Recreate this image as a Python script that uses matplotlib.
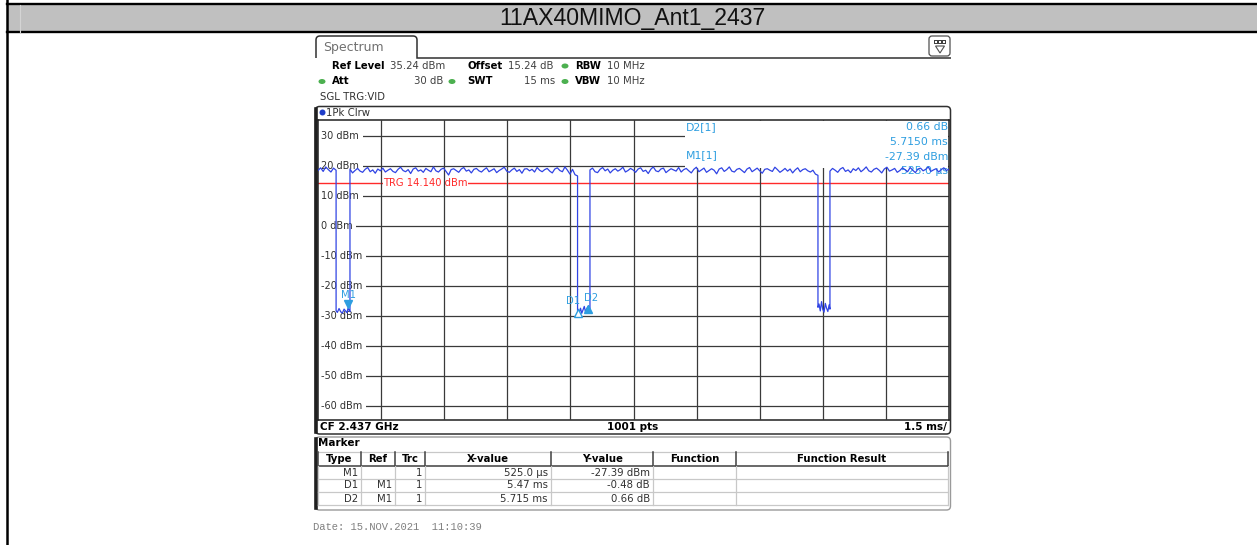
import numpy as np
import matplotlib.pyplot as plt
from matplotlib.patches import Rectangle, FancyBboxPatch, Ellipse, Circle, PathPatch, Polygon
from matplotlib.path import Path
from matplotlib.transforms import offset_copy

W, H = 1257, 545

TITLE = "11AX40MIMO_Ant1_2437"

# analyzer settings
REF_LEVEL = 35.24
RANGE_DB = 100.0
T_START, T_STOP = -0.19, 14.81      # ms, 1.5 ms/div
TRG_LEVEL = 14.14
Y_TICKS = [30, 20, 10, 0, -10, -20, -30, -40, -50, -60]

# trace, split into burst-on levels and the gaps between bursts (ms, dBm)
seg_a_dbm = [18.4, 19.3, 18.1, 19.6, 18.7, 17.9, 19.2, 18.5]
gap1_ms = [0.24, 0.27, 0.31, 0.35, 0.39, 0.43, 0.47, 0.50, 0.525, 0.55, 0.57]
gap1_dbm = [-28.3, -28.9, -27.6, -28.7, -29.1, -27.8, -28.5, -29.0, -27.39, -28.2, -28.6]
seg_b_dbm = [18.9, 17.6, 18.4, 19.1, 18.2, 17.8, 18.8, 19.4, 18.0, 18.6,
             17.5, 18.9, 18.3, 19.2, 17.9, 18.5, 19.0, 18.1, 17.7, 18.8,
             19.5, 18.4, 18.0, 18.7, 17.4, 18.9, 19.3, 18.2, 18.6, 17.8,
             19.1, 18.5, 18.0, 19.6, 18.3, 17.9, 18.8, 19.2, 18.1, 16.9,
             18.7, 19.0, 18.4, 17.8, 18.9, 19.4, 18.2, 18.6, 17.6, 18.8,
             19.1, 18.3, 17.9, 18.7, 19.3, 18.0, 18.5, 19.0, 17.7, 18.4,
             18.9, 19.5, 18.2, 17.8, 18.6, 19.2, 18.1, 18.7, 17.5, 18.9,
             19.0, 18.3, 18.8, 17.9, 19.4, 18.5, 18.0, 18.7, 19.1, 18.2,
             17.6, 18.9, 19.3, 18.4, 18.0, 19.6, 18.5, 17.2, 18.8, 17.0, 16.6]
gap2_ms = [5.98, 5.995, 6.02, 6.05, 6.08, 6.11, 6.14, 6.17, 6.20, 6.24, 6.26, 6.275]
gap2_dbm = [-28.4, -27.87, -28.9, -27.5, -29.2, -28.1, -26.9, -28.8, -27.6, -26.73, -28.3, -27.9]
seg_c_dbm = [18.6, 19.2, 18.0, 17.7, 18.8, 19.4, 18.3, 18.9, 17.6, 18.5,
             19.0, 18.2, 18.7, 19.5, 17.9, 18.4, 19.1, 18.6, 17.8, 18.9,
             19.3, 18.1, 18.5, 17.4, 18.8, 19.6, 18.3, 18.0, 18.9, 19.2,
             17.7, 18.4, 19.0, 18.6, 18.2, 19.4, 17.9, 18.7, 19.1, 18.3,
             17.6, 18.8, 19.5, 18.0, 18.6, 19.2, 17.8, 18.4, 19.0, 18.5,
             17.3, 18.9, 19.3, 18.1, 18.7, 19.6, 18.2, 17.9, 18.8, 19.1,
             18.4, 17.7, 18.9, 19.4, 18.0, 18.6, 19.2, 18.3, 17.5, 18.8,
             19.0, 18.5, 18.1, 19.5, 18.7, 17.8, 18.4, 19.1, 18.2, 18.9,
             17.6, 18.6, 19.3, 18.0, 18.7, 19.0, 18.3, 17.9, 18.5, 17.2, 16.8]
gap3_ms = [11.695, 11.72, 11.75, 11.78, 11.81, 11.84, 11.87, 11.90, 11.93, 11.96, 11.98]
gap3_dbm = [-27.2, -26.1, -28.4, -25.3, -27.9, -28.8, -25.9, -27.5, -28.6, -26.4, -27.8]
seg_d_dbm = [18.2, 19.1, 18.5, 17.8, 18.9, 19.4, 18.1, 18.6, 17.7, 19.0,
             18.4, 19.3, 18.0, 18.7, 19.6, 18.3, 17.9, 18.8, 19.2, 18.5,
             17.6, 18.9, 19.5, 18.2, 18.6, 19.1, 17.8, 18.4, 19.3, 18.7,
             18.0, 19.4, 18.5, 17.7, 18.9, 19.2, 18.3, 18.8, 19.6, 18.1,
             18.6, 19.0, 17.9, 18.7, 19.3, 18.4, 18.9]

# markers
M1_MS, M1_DBM = 0.525, -27.39
D1_DMS, D1_DDB = 5.47, -0.48
D2_DMS, D2_DDB = 5.715, 0.66

TABLE_HEAD = ["Type", "Ref", "Trc", "X-value", "Y-value", "Function", "Function Result"]
TABLE_ROWS = [["M1", "", "1", "525.0 µs", "-27.39 dBm", "", ""],
              ["D1", "M1", "1", "5.47 ms", "-0.48 dB", "", ""],
              ["D2", "M1", "1", "5.715 ms", "0.66 dB", "", ""]]

UI = "DejaVu Sans"
MARK_C = "#2e9ee0"
TRACE_C = "#3044e4"
GRID_C = "#3a3a3a"

fig = plt.figure(figsize=(W / 100, H / 100), dpi=100)

# pixel overlay for the frame, header and table
ov = fig.add_axes([0, 0, 1, 1])
ov.set_xlim(0, W)
ov.set_ylim(H, 0)
ov.axis("off")
ov.set_zorder(0)

# title row of the report table
ov.add_patch(Rectangle((7, 4.5), W - 7, 27.5, fc="#c0c0c0", ec="none"))
ov.plot([7, W], [4.2, 4.2], color="k", lw=1.7, clip_on=False)
ov.plot([7, W], [32.2, 32.2], color="k", lw=1.7, clip_on=False)
ov.plot([7, 7], [0, H], color="k", lw=1.8, clip_on=False)
ov.plot([20, 20], [5, 31.5], color="#d4d4d4", lw=0.8)
ov.text(632, 18.5, TITLE, ha="center", va="center", fontsize=16.6,
        family="Liberation Sans", color="#111111")

# "Spectrum" tab
tab = Path([(316, 58), (316, 40), (316, 36), (320, 36), (413, 36), (417, 36), (417, 40),
            (417, 58), (951, 58)],
           [Path.MOVETO, Path.LINETO, Path.CURVE3, Path.CURVE3, Path.LINETO,
            Path.CURVE3, Path.CURVE3, Path.LINETO, Path.LINETO])
ov.add_patch(PathPatch(tab, fc="none", ec="#303030", lw=1.1))
ov.text(323, 47, "Spectrum", fontsize=9, family=UI, color="#707070", va="center")

# small toolbar icon at the right
ov.add_patch(FancyBboxPatch((929, 36), 21, 20, boxstyle="round,pad=0,rounding_size=3",
                            fc="white", ec="#505050", lw=0.9))
ov.add_patch(Rectangle((933.5, 39.5), 12, 4.5, fc="#404040", ec="none"))
for sx in (935, 938.8, 942.6):
    ov.add_patch(Rectangle((sx, 40.6), 2.4, 2.3, fc="white", ec="none"))
ov.add_patch(Polygon([(935.5, 46), (944.5, 46), (940, 53)], closed=True,
                     fc="white", ec="#505050", lw=0.8))

# settings lines
hs = 7.3
ov.text(332, 66, "Ref Level", fontsize=hs, family=UI, weight="bold", va="center")
ov.text(390, 66, "35.24 dBm", fontsize=hs, family=UI, color="#404040", va="center")
ov.text(467, 66, "Offset", fontsize=hs, family=UI, weight="bold", va="center")
ov.text(508, 66, "15.24 dB", fontsize=hs, family=UI, color="#404040", va="center")
ov.text(575, 66, "RBW", fontsize=hs, family=UI, weight="bold", va="center")
ov.text(607, 66, "10 MHz", fontsize=hs, family=UI, color="#404040", va="center")
ov.text(332, 81.5, "Att", fontsize=hs, family=UI, weight="bold", va="center")
ov.text(443, 81.5, "30 dB", fontsize=hs, family=UI, color="#404040", va="center", ha="right")
ov.text(467, 81.5, "SWT", fontsize=hs, family=UI, weight="bold", va="center")
ov.text(555, 81.5, "15 ms", fontsize=hs, family=UI, color="#404040", va="center", ha="right")
ov.text(575, 81.5, "VBW", fontsize=hs, family=UI, weight="bold", va="center")
ov.text(607, 81.5, "10 MHz", fontsize=hs, family=UI, color="#404040", va="center")
for cx, cy in [(565, 66), (322, 81.5), (452, 81.5), (565, 81.5)]:
    ov.add_patch(Ellipse((cx, cy), 7, 5, fc="#4cb050", ec="none"))
ov.text(320, 97, "SGL TRG:VID", fontsize=hs, family=UI, color="#303030", va="center")

# diagram frame
ov.add_patch(FancyBboxPatch((315.5, 106.5), 635, 327.5, boxstyle="round,pad=0,rounding_size=4",
                            fc="none", ec="#303030", lw=1.1))
ov.plot([315.5, 315.5], [109, 432], color="#202020", lw=2.6)
ov.add_patch(Circle((322.5, 112.5), 3, fc="#1e3cc8", ec="none"))
ov.text(326, 112.5, "1Pk Clrw", fontsize=hs, family=UI, color="#303030", va="center")

# status bar under the diagram
ov.text(320, 427, "CF 2.437 GHz", fontsize=7.5, family=UI, weight="bold", va="center")
ov.text(633, 427, "1001 pts", fontsize=7.5, family=UI, weight="bold", va="center", ha="center")
ov.text(947, 427, "1.5 ms/", fontsize=7.5, family=UI, weight="bold", va="center", ha="right")

# marker table
ov.add_patch(FancyBboxPatch((315.5, 437), 635, 73, boxstyle="round,pad=0,rounding_size=4",
                            fc="none", ec="#9a9a9a", lw=1.0))
ov.plot([315.5, 315.5], [439, 508], color="#202020", lw=2.6)
ov.text(318, 443.5, "Marker", fontsize=7.5, family=UI, weight="bold", va="center")
col_x = [318, 361, 395, 425, 551, 653, 736, 948]
row_y = [452, 465.5, 478.5, 491.5, 504.5]
ov.plot([col_x[0], col_x[-1]], [row_y[0], row_y[0]], color="#c8c8c8", lw=0.9)
ov.plot([col_x[0], col_x[-1]], [row_y[1], row_y[1]], color="#404040", lw=1.1)
for yy in row_y[2:]:
    ov.plot([col_x[0], col_x[-1]], [yy, yy], color="#c8c8c8", lw=0.9)
for i, xx in enumerate(col_x):
    ov.plot([xx, xx], [row_y[0], row_y[1]], color="#404040", lw=1.1)
    ov.plot([xx, xx], [row_y[1], row_y[-1]], color="#c8c8c8", lw=0.9)
for j, name in enumerate(TABLE_HEAD):
    ov.text((col_x[j] + col_x[j + 1]) / 2, (row_y[0] + row_y[1]) / 2 + 0.5, name,
            fontsize=7.3, family=UI, weight="bold", ha="center", va="center")
for r, row in enumerate(TABLE_ROWS):
    yc = (row_y[r + 1] + row_y[r + 2]) / 2 + 0.5
    for j, cell in enumerate(row):
        if cell:
            ov.text(col_x[j + 1] - 3, yc, cell, fontsize=7.3, family=UI, color="#303030",
                    ha="right", va="center")

ov.text(313, 527, "Date: 15.NOV.2021  11:10:39", fontsize=7.6, family="Liberation Mono",
        color="#808080", va="center")

# measurement diagram
x0, x1, y0, y1 = 318, 949, 120, 420
ax = fig.add_axes([x0 / W, 1 - y1 / H, (x1 - x0) / W, (y1 - y0) / H])
ax.set_zorder(1)
ax.set_xlim(T_START, T_STOP)
ax.set_ylim(REF_LEVEL - RANGE_DB, REF_LEVEL)
ax.set_xticks([])
ax.set_yticks([])
for sp in ax.spines.values():
    sp.set_color("#202020")
    sp.set_linewidth(1.1)

for k in range(1, 10):
    ax.axvline(T_START + 1.5 * k, color=GRID_C, lw=0.9, zorder=3)
for v in Y_TICKS:
    ax.axhline(v, color=GRID_C, lw=0.9, zorder=2)
    ax.text(0.0052, v, f"{v} dBm", transform=ax.get_yaxis_transform(), fontsize=7,
            family=UI, color="#303030", va="center", zorder=2.5,
            bbox=dict(fc="white", ec="none", pad=2.5))

ax.axhline(TRG_LEVEL, color="#ff2a2a", lw=1.0, zorder=2)
ax.text(T_START + 1.5 + 0.05, TRG_LEVEL, "TRG 14.140 dBm", fontsize=7.2, family=UI,
        color="#ff2a2a", va="center", zorder=2.5, bbox=dict(fc="white", ec="none", pad=0.3))

# marker readout block, upper right
ax.add_patch(Rectangle((685, 121), 263, 47, transform=ov.transData, fc="white", ec="none",
                       zorder=3.5))
rd = dict(fontsize=7.8, family=UI, color=MARK_C, va="center", zorder=3.6,
          transform=ov.transData)
ax.text(686, 127.5, "D2[1]", **rd)
ax.text(948, 127.5, f"{D2_DDB:.2f} dB", ha="right", **rd)
ax.text(948, 142, f"{D2_DMS:.4f} ms", ha="right", **rd)
ax.text(686, 155.5, "M1[1]", **rd)
ax.text(948, 156.5, f"{M1_DBM:.2f} dBm", ha="right", **rd)
ax.text(948, 170.5, f"{M1_MS * 1000:.1f} µs", ha="right", **rd)

# assemble the trace
t_a = np.linspace(T_START, gap1_ms[0], len(seg_a_dbm))
t_b = np.linspace(gap1_ms[-1], gap2_ms[0], len(seg_b_dbm))
t_c = np.linspace(gap2_ms[-1], gap3_ms[0], len(seg_c_dbm))
t_d = np.linspace(gap3_ms[-1], T_STOP, len(seg_d_dbm))
trace_t = np.concatenate([t_a, gap1_ms, t_b, gap2_ms, t_c, gap3_ms, t_d])
trace_v = np.concatenate([seg_a_dbm, gap1_dbm, seg_b_dbm, gap2_dbm, seg_c_dbm, gap3_dbm,
                          seg_d_dbm])
ax.plot(trace_t, trace_v, color=TRACE_C, lw=0.9, zorder=4)

# marker symbols
d1_t, d1_v = M1_MS + D1_DMS, M1_DBM + D1_DDB
d2_t, d2_v = M1_MS + D2_DMS, M1_DBM + D2_DDB
down = offset_copy(ax.transData, fig=fig, x=0, y=3.5, units="dots")
up = offset_copy(ax.transData, fig=fig, x=0, y=-3.5, units="dots")
ax.plot([M1_MS], [M1_DBM], marker="v", ms=6, color=MARK_C, transform=down, zorder=5)
ax.plot([d1_t], [d1_v], marker="^", ms=6, mfc="white", mec=MARK_C, mew=1.0,
        transform=up, zorder=5)
ax.plot([d2_t], [d2_v], marker="^", ms=6, color=MARK_C, transform=up, zorder=5)
lab = dict(fontsize=7.2, family=UI, color=MARK_C, ha="center", va="center", zorder=5)
ax.text(M1_MS, M1_DBM + 4.3, "M1", **lab)
ax.text(d1_t - 0.12, d1_v + 2.8, "D1", **lab)
ax.text(d2_t + 0.06, d2_v + 2.6, "D2", **lab)

fig.savefig("out.png", dpi=100)
